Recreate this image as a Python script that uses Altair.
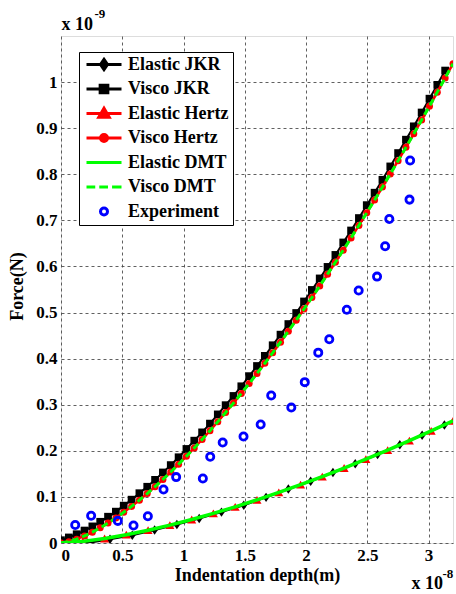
import altair as alt
import pandas as pd

# ---------------- data (depth in 1e-8 m, force in 1e-9 N) ----------------
depth_visco_hertz = [0, 0.064, 0.128, 0.192, 0.256, 0.32, 0.384, 0.448, 0.512, 0.576,
                     0.64, 0.704, 0.768, 0.832, 0.896, 0.96, 1.024, 1.088, 1.152, 1.216,
                     1.28, 1.344, 1.408, 1.472, 1.536, 1.6, 1.664, 1.728, 1.792, 1.856,
                     1.92, 1.984, 2.048, 2.112, 2.176, 2.24, 2.304, 2.368, 2.432, 2.496,
                     2.56, 2.624, 2.688, 2.752, 2.816, 2.88, 2.944, 3.008, 3.072, 3.136, 3.2]
force_visco_hertz = [0, 0.0029, 0.0083, 0.0153, 0.0235, 0.0329, 0.0432, 0.0545, 0.0666, 0.0794,
                     0.0930, 0.1073, 0.1223, 0.1379, 0.1541, 0.1709, 0.1883, 0.2062, 0.2246, 0.2436,
                     0.2631, 0.2831, 0.3035, 0.3245, 0.3459, 0.3677, 0.3900, 0.4127, 0.4358, 0.4594,
                     0.4834, 0.5077, 0.5325, 0.5576, 0.5832, 0.6091, 0.6354, 0.6620, 0.6891, 0.7164,
                     0.7442, 0.7722, 0.8007, 0.8294, 0.8585, 0.8880, 0.9177, 0.9478, 0.9782, 1.0090, 1.04]

depth_visco_jkr = [0, 0.064, 0.128, 0.192, 0.256, 0.32, 0.384, 0.448, 0.512, 0.576,
                   0.64, 0.704, 0.768, 0.832, 0.896, 0.96, 1.024, 1.088, 1.152, 1.216,
                   1.28, 1.344, 1.408, 1.472, 1.536, 1.6, 1.664, 1.728, 1.792, 1.856,
                   1.92, 1.984, 2.048, 2.112, 2.176, 2.24, 2.304, 2.368, 2.432, 2.496,
                   2.56, 2.624, 2.688, 2.752, 2.816, 2.88, 2.944, 3.008, 3.072, 3.136]
force_visco_jkr = [0.006, 0.012, 0.019, 0.027, 0.036, 0.046, 0.057, 0.068, 0.081, 0.094,
                   0.108, 0.122, 0.137, 0.153, 0.169, 0.186, 0.204, 0.222, 0.240, 0.259,
                   0.279, 0.299, 0.319, 0.340, 0.362, 0.384, 0.406, 0.429, 0.452, 0.475,
                   0.499, 0.524, 0.549, 0.574, 0.599, 0.625, 0.652, 0.678, 0.705, 0.733,
                   0.760, 0.788, 0.817, 0.846, 0.875, 0.904, 0.934, 0.964, 0.994, 1.025]

depth_elastic_hertz = [0, 0.178, 0.356, 0.533, 0.711, 0.889, 1.067, 1.244, 1.422, 1.6,
                       1.778, 1.956, 2.133, 2.311, 2.489, 2.667, 2.844, 3.022, 3.2]
force_elastic_hertz = [0, 0.0035, 0.0098, 0.018, 0.0278, 0.0388, 0.051, 0.0643, 0.0785, 0.0937,
                       0.1097, 0.1266, 0.1442, 0.1627, 0.1818, 0.2016, 0.2221, 0.2432, 0.265]

depth_elastic_jkr = [0.036, 0.218, 0.4, 0.582, 0.764, 0.946, 1.128, 1.31, 1.492, 1.674,
                     1.856, 2.038, 2.22, 2.402, 2.584, 2.766, 2.948, 3.13]
force_elastic_jkr = [-0.006, 0.0, 0.008, 0.017, 0.028, 0.040, 0.053, 0.067, 0.082, 0.099,
                     0.117, 0.134, 0.153, 0.172, 0.192, 0.213, 0.234, 0.256]

depth_experiment = [0.116, 0.246, 0.464, 0.592, 0.709, 0.837, 0.94, 1.158, 1.218, 1.32,
                    1.49, 1.63, 1.716, 1.88, 1.99, 2.1, 2.19, 2.333, 2.43, 2.58,
                    2.646, 2.68, 2.845, 2.85]
force_experiment = [0.039, 0.059, 0.048, 0.038, 0.058, 0.116, 0.143, 0.14, 0.187, 0.218,
                    0.231, 0.257, 0.32, 0.294, 0.349, 0.413, 0.442, 0.506, 0.548, 0.578,
                    0.644, 0.703, 0.745, 0.83]

x_ticks = [0, 0.5, 1, 1.5, 2, 2.5, 3]
y_ticks = [0, 0.1, 0.2, 0.3, 0.4, 0.5, 0.6, 0.7, 0.8, 0.9, 1.0]

series_names = ["Elastic JKR", "Visco JKR", "Elastic Hertz", "Visco Hertz",
                "Elastic DMT", "Visco DMT", "Experiment"]

# ---------------- styling ----------------
FONT = "Liberation Serif"
DIAMOND = "M0,-1L0.7,0L0,1L-0.7,0Z"


def frame(xs, ys, name):
    return pd.DataFrame({"x": xs, "y": ys, "series": name})


X = alt.X("x:Q", title="Indentation depth(m)",
          scale=alt.Scale(domain=[0, 3.2], nice=False, zero=False),
          axis=alt.Axis(values=x_ticks, format="~g"))
Y = alt.Y("y:Q", title="Force(N)",
          scale=alt.Scale(domain=[0, 1.1], nice=False, zero=False),
          axis=alt.Axis(values=y_ticks, format="~g", titleX=-44, titleY=250,
                        titleAngle=270, titleAlign="center", titleBaseline="middle"))

specs = [
    # name, xs, ys, color, line width, dash, marker shape, marker size
    ("Elastic JKR", depth_elastic_jkr, force_elastic_jkr, "#000000", 2, None, DIAMOND, 90),
    ("Visco JKR", depth_visco_jkr, force_visco_jkr, "#000000", 2, None, "square", 60),
    ("Elastic Hertz", depth_elastic_hertz, force_elastic_hertz, "#ff0000", 2, None, "triangle-up", 81),
    ("Visco Hertz", depth_visco_hertz, force_visco_hertz, "#ff0000", 2.5, None, "circle", 49),
    ("Elastic DMT", depth_elastic_hertz, force_elastic_hertz, "#00ff00", 3.5, None, None, 0),
    ("Visco DMT", depth_visco_hertz, force_visco_hertz, "#00ff00", 3, [7, 4], None, 0),
]

layers = []
for name, xs, ys, col, lw, dash, shape, msize in specs:
    df = frame(xs, ys, name)
    line_kw = dict(color=col, strokeWidth=lw, clip=True)
    if dash:
        line_kw["strokeDash"] = dash
    layers.append(alt.Chart(df).mark_line(**line_kw).encode(x=X, y=Y))
    if shape:
        layers.append(
            alt.Chart(df).mark_point(shape=shape, filled=True, color=col, size=msize,
                                     opacity=1, clip=True).encode(x=X, y=Y)
        )

exp_df = frame(depth_experiment, force_experiment, "Experiment")
layers.append(
    alt.Chart(exp_df).mark_point(shape="circle", filled=False, color="#0000ff",
                                 strokeWidth=2.8, size=52, opacity=1, clip=True)
    .encode(x=X, y=Y)
)

# legend-only layer (no visible data, symbols come from the scale domain)
legend_paths = [
    "M-1,0L1,0M0,-0.29L0.2,0L0,0.29L-0.2,0Z",
    "M-1,0L1,0M-0.22,-0.22L0.22,-0.22L0.22,0.22L-0.22,0.22Z",
    "M-1,0L1,0M0,-0.3L0.3,0.22L-0.3,0.22Z",
    "M-1,0L1,0M-0.2,0A0.2,0.2,0,1,0,0.2,0A0.2,0.2,0,1,0,-0.2,0Z",
    "M-1,0L1,0",
    "M-1,0L-0.5,0M-0.27,0L0.23,0M0.46,0L1,0",
    "M-0.2,0A0.2,0.2,0,1,0,0.2,0A0.2,0.2,0,1,0,-0.2,0Z",
]
legend_strokes = ["#000000", "#000000", "#ff0000", "#ff0000", "#00ff00", "#00ff00", "#0000ff"]
legend_fills = ["#000000", "#000000", "#ff0000", "#ff0000", "#00ff00", "#00ff00", "#ffffff"]

leg = alt.Legend(
    title=None, orient="none", legendX=18, legendY=16,
    labelFont=FONT, labelFontWeight="bold", labelFontSize=18, labelColor="black",
    symbolSize=1225, symbolStrokeWidth=3, labelOffset=5, rowPadding=5.5, clipHeight=17,
    strokeColor="black", fillColor="white", padding=4, symbolOffset=2,
)
legend_df = pd.DataFrame({"series": series_names})
legend_layer = (
    alt.Chart(legend_df).transform_filter("false")
    .mark_point(size=1225, strokeWidth=3, opacity=1)
    .encode(
        shape=alt.Shape("series:N", sort=series_names,
                        scale=alt.Scale(domain=series_names, range=legend_paths), legend=leg),
        stroke=alt.Stroke("series:N", sort=series_names,
                          scale=alt.Scale(domain=series_names, range=legend_strokes), legend=leg),
        fill=alt.Fill("series:N", sort=series_names,
                      scale=alt.Scale(domain=series_names, range=legend_fills), legend=leg),
    )
)
layers.append(legend_layer)


def note(text, x, y, size):
    return alt.Chart(pd.DataFrame({"t": [text]})).mark_text(
        font=FONT, fontWeight="bold", fontSize=size, color="black",
        align="left", baseline="alphabetic"
    ).encode(text="t:N", x=alt.value(x), y=alt.value(y))


layers += [
    note("x 10", 0.5, -6, 18),
    note("-9", 33.5, -18, 13),
    note("x 10", 350.5, 553, 18),
    note("-8", 381.5, 542, 13),
]

chart = (
    alt.layer(*layers)
    .properties(width=392, height=507, padding={"left": 61, "top": 36, "right": 3, "bottom": 51},
                autosize=alt.AutoSizeParams(type="none"))
    .configure_view(stroke="black", strokeWidth=1, fill="white")
    .configure(background="white")
    .configure_axis(
        labelFont=FONT, labelFontWeight="bold", labelFontSize=17, labelColor="black",
        titleFont=FONT, titleFontWeight="bold", titleFontSize=18, titleColor="black",
        grid=True, gridColor="#444444", gridDash=[3, 3], gridWidth=1, gridOpacity=0.85,
        domain=False, ticks=False,
    )
    .configure_axisX(labelPadding=4, titlePadding=3)
    .configure_axisY(labelPadding=4)
)

chart.save("out.html", embed_options={"renderer": "svg", "actions": False})
